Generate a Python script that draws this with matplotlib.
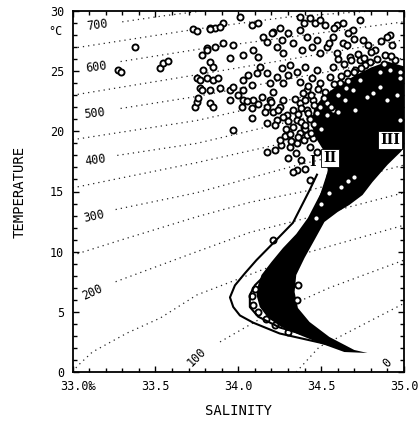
"""T-S diagram: surface temperature vs salinity with thermosteric anomaly isolines."""

import matplotlib

matplotlib.use("Agg")
import matplotlib.pyplot as plt
from matplotlib.ticker import MultipleLocator
from matplotlib.transforms import ScaledTranslation

# thermosteric anomaly isolines (cl/t) as (S, T) vertices
ISO_LEVELS = [700, 650, 600, 550, 500, 450, 400, 350, 300, 250, 200, 150, 100, 50]
ISO_S = {
    700: [33.30, 33.55, 33.78],
    650: [33.0, 33.75, 34.30, 34.80],
    600: [33.29, 33.75, 34.40, 35.0],
    550: [33.0, 33.75, 34.40, 35.0],
    500: [33.29, 33.75, 34.40, 35.0],
    450: [33.0, 33.75, 34.40, 35.0],
    400: [33.27, 33.75, 34.40, 35.0],
    350: [33.0, 33.75, 34.40, 35.0],
    300: [33.26, 33.75, 34.33, 35.0],
    250: [33.0, 33.30, 33.75, 34.07, 34.43, 35.0],
    200: [33.26, 33.75, 34.07, 34.33, 35.0],
    150: [33.0, 33.03, 33.12, 33.33, 33.53, 33.75, 34.41, 35.0],
    100: [33.89, 34.13, 34.55, 35.0],
    50: [34.35, 34.49, 34.60, 35.0],
}
ISO_T = {
    700: [29.1, 29.6, 30.0],
    650: [26.9, 28.5, 29.5, 30.0],
    600: [25.8, 26.8, 28.0, 29.1],
    550: [23.0, 24.7, 26.2, 27.6],
    500: [21.9, 22.9, 24.6, 26.1],
    450: [19.3, 20.9, 22.9, 24.6],
    400: [18.0, 19.0, 21.1, 23.0],
    350: [15.3, 17.4, 19.4, 21.2],
    300: [13.5, 14.9, 17.1, 19.3],
    250: [9.7, 11.0, 12.9, 14.1, 15.1, 17.2],
    200: [7.5, 10.0, 11.6, 12.5, 14.9],
    150: [0.0, 0.5, 1.66, 3.24, 4.49, 6.4, 9.9, 12.2],
    100: [2.5, 4.4, 7.0, 9.3],
    50: [0.0, 2.1, 2.85, 5.7],
}
# isoline labels: text, S, T, rotation
ISO_LABELS = [
    ("700", 33.148, 28.84, 8),
    ("600", 33.142, 25.35, 8),
    ("500", 33.13, 21.53, 6),
    ("400", 33.136, 17.62, 8),
    ("300", 33.13, 12.97, 12),
    ("200", 33.118, 6.65, 25),
    ("100", 33.75, 1.25, 45),
    ("0", 34.897, 0.75, 45),
]

# envelope curves I (outer) and II (inner)
CURVE_I_S = [34.475, 34.43, 34.33, 34.21, 34.11, 34.04, 33.98, 33.95, 33.97, 34.01,
             34.09, 34.25, 34.475, 34.64]
CURVE_I_T = [16.4, 15.1, 12.4, 10.7, 9.3, 8.2, 7.2, 6.2, 5.4, 4.7, 4.1, 3.2, 2.5, 2.0]
CURVE_II_S = [34.54, 34.49, 34.39, 34.28, 34.18, 34.10, 34.07, 34.07, 34.12, 34.25,
              34.45, 34.64]
CURVE_II_T = [16.4, 14.3, 11.6, 9.7, 8.3, 7.2, 6.4, 5.4, 4.6, 3.7, 2.9, 2.1]

# outline of the solid black cloud of overlapping stations
CORE_S = [34.78, 34.70, 34.55, 34.43, 34.36, 34.34, 34.35, 34.40, 34.46, 34.52, 34.60,
          34.67, 34.75, 34.81, 34.90, 34.98, 35.0, 35.0, 34.90, 34.80, 34.70, 34.60,
          34.52, 34.46, 34.44, 34.47, 34.52, 34.54, 34.52, 34.47, 34.42, 34.35, 34.27,
          34.20, 34.14, 34.12, 34.11, 34.13, 34.18, 34.26, 34.37, 34.49, 34.64]
CORE_T = [1.58, 1.83, 2.91, 4.16, 5.32, 6.65, 8.06, 9.48, 10.97, 12.47, 13.30,
          13.88, 14.71, 15.79, 17.21, 18.29, 18.62, 25.4, 25.8, 25.3, 24.6, 23.8,
          23.0, 22.0, 20.6, 19.4, 18.3, 16.79, 15.46, 14.13, 12.80, 11.47, 10.31,
          9.14, 8.06, 7.23, 6.40, 5.40, 4.49, 3.74, 3.08, 2.41, 1.66]

# individual stations (open circles)
STN_S = [
    33.275, 33.29, 33.377, 33.528, 33.546, 33.576, 33.727, 33.751, 33.739, 33.751,
    33.757, 33.751, 33.769, 33.769, 33.787, 33.811, 33.830, 33.781, 33.781,
    34.011, 33.908, 33.860, 33.830, 33.890, 34.083, 34.119, 34.210, 34.252, 34.373,
    34.397, 34.433, 34.463, 34.493, 34.523, 34.596, 34.632, 34.735, 34.915, 34.897,
    33.811, 33.860, 33.908, 33.968, 33.830, 33.848, 33.950, 34.029, 34.089, 34.119,
    34.149, 34.173, 34.204, 34.234, 34.264, 34.270, 34.300, 34.330, 34.373, 34.385,
    34.415, 34.445, 34.475, 34.493, 34.535, 34.572, 34.596, 34.632, 34.692, 34.674,
    34.735, 34.795, 34.855, 34.976, 34.976,
    33.811, 33.848, 33.878, 33.830, 33.890, 33.950, 33.968, 34.029, 34.059, 34.029,
    34.083, 34.113, 34.131, 34.173, 34.192, 34.210, 34.234, 34.264, 34.270, 34.300,
    34.312, 34.354, 34.373, 34.403, 34.415, 34.445, 34.475, 34.493, 34.523, 34.554,
    34.572, 34.614, 34.656, 34.692, 34.735, 34.777, 34.813, 34.855, 34.897, 34.958,
    33.830, 33.848, 34.023, 34.029, 34.089, 34.143, 34.173, 34.192, 34.210, 34.252,
    34.270, 34.294, 34.330, 34.373, 34.415, 34.433, 34.451, 34.475, 34.493, 34.535,
    34.535, 34.572, 34.083, 33.968, 34.173, 34.234, 34.354, 34.397,
    34.373, 34.397, 34.415, 34.451, 34.354, 34.433, 34.173, 34.222, 34.312, 34.354,
    34.330, 34.475, 34.433, 34.210, 34.360, 34.354,
    34.656, 34.753, 34.825, 34.885, 34.946, 34.704, 34.765, 34.915, 34.644, 34.704,
    34.976, 34.958,
    34.08, 34.10, 34.09, 34.12, 34.17, 34.22, 34.30,
    34.55, 34.62, 34.66, 34.70, 34.50, 34.47,
    34.60, 34.64, 34.68, 34.72, 34.76, 34.80, 34.84, 34.88, 34.92, 34.93,
    34.86, 34.78, 34.70, 34.66, 34.58, 34.55, 34.62, 34.66, 34.70, 34.74, 34.58, 34.60,
    34.65, 34.52, 34.56, 34.60, 34.48, 34.44, 34.40, 34.46, 34.42, 34.38, 34.46, 34.50,
    34.44, 34.40, 34.36, 34.33, 34.30, 34.27, 34.24, 34.20, 34.16, 34.12, 34.08, 34.05,
    34.00, 33.95, 34.28, 34.32, 34.26, 34.35, 34.38, 34.40, 34.30,
    34.36, 34.40, 34.43, 34.38, 34.34, 34.31, 34.42, 34.39, 34.29, 34.25, 34.22,
]
STN_T = [
    25.1, 24.9, 27.0, 25.3, 25.7, 25.85, 28.51, 28.35, 22.03, 22.44,
    22.78, 24.44, 23.61, 24.27, 25.1, 26.93, 28.6, 26.35, 23.44,
    29.51, 29.01, 28.60, 28.51, 28.68, 28.84, 29.01, 28.26, 28.60, 29.51,
    29.01, 29.43, 29.01, 29.26, 28.84, 28.84, 29.01, 29.26, 28.01, 27.85,
    26.77, 27.02, 27.35, 27.18, 25.77, 25.35, 26.10, 26.35, 26.77, 26.18,
    27.85, 27.43, 28.18, 27.02, 27.60, 26.52, 28.18, 27.35, 28.43, 26.77,
    27.85, 27.02, 27.60, 26.52, 27.02, 27.85, 26.52, 27.35, 28.43, 26.18,
    25.94, 25.77, 24.94, 24.94, 24.44,
    24.44, 24.27, 24.44, 23.44, 23.61, 23.44, 23.69, 24.27, 24.69, 23.44,
    23.86, 24.85, 25.35, 24.85, 24.02, 23.28, 24.52, 25.27, 24.02, 24.69,
    25.52, 24.94, 24.11, 25.35, 23.44, 24.44, 25.10, 24.02, 23.28, 24.52,
    25.35, 24.02, 24.85, 23.44, 24.27, 22.86, 23.19, 23.69, 22.61, 23.03,
    22.36, 22.03, 22.03, 22.61, 22.61, 22.86, 22.03, 22.61, 21.61, 22.03,
    22.61, 21.36, 21.78, 22.36, 21.78, 21.11, 22.61, 21.53, 22.03, 22.36,
    21.36, 21.78, 21.11, 20.12, 20.70, 20.95, 20.95, 20.37,
    19.87, 19.29, 19.70, 19.45, 19.04, 18.70, 18.29, 18.45, 18.70, 16.79,
    16.63, 18.29, 15.96, 10.97, 7.23, 5.99,
    27.18, 27.60, 26.77, 26.35, 25.94, 25.10, 25.52, 25.10, 22.61, 21.78,
    20.95, 19.6,
    6.3, 6.9, 5.6, 5.0, 4.4, 3.9, 3.3,
    14.9, 15.4, 15.9, 16.2, 14.0, 12.8,
    26.0, 25.6, 25.9, 26.4, 26.1, 26.6, 26.0, 25.6, 26.3, 27.2,
    27.5, 27.2, 27.7, 28.2, 28.6, 27.3, 24.6, 24.2, 24.9, 25.3, 23.9, 23.0,
    23.6, 22.8, 22.0, 21.6, 23.5, 23.0, 22.6, 22.2, 21.5, 20.8, 20.6, 20.2,
    19.9, 20.2, 21.4, 20.4, 20.9, 21.2, 21.8, 22.4, 21.6, 22.3, 21.9, 22.5,
    23.0, 22.6, 19.6, 19.2, 18.9, 18.2, 17.6, 16.9, 17.8,
    19.5, 20.5, 21.0, 21.9, 22.7, 19.8, 23.8, 23.2, 20.2, 19.3, 20.5,
]

# water-type labels: text, S, T, boxed
TYPE_LABELS = [("I", 34.446, 17.46, False), ("II", 34.554, 17.8, True), ("III", 34.915, 19.3, True)]

S_MAJOR = [33.0, 33.5, 34.0, 34.5, 35.0]
S_TICKLABELS = ["33.0‰", "33.5", "34.0", "34.5", "35.0"]
T_MAJOR = [0, 5, 10, 15, 20, 25, 30]

MONO = "DejaVu Sans Mono"

fig = plt.figure(figsize=(4.19, 4.21), dpi=100)
ax = fig.add_axes([72.5 / 419, 1 - 372 / 421, (404 - 72.5) / 419, (372 - 11) / 421])
ax.set_xlim(33.0, 35.0)
ax.set_ylim(0, 30)

for lev in ISO_LEVELS:
    ax.plot(ISO_S[lev], ISO_T[lev], color="0.15", lw=0.9, ls=(0, (1, 3.2)), zorder=1)
for txt, s, t, rot in ISO_LABELS:
    ax.text(s, t, txt, fontsize=8.5, family=MONO, rotation=rot,
            ha="center", va="center", zorder=2)

ax.fill(CORE_S, CORE_T, color="black", lw=0, zorder=3)
ax.plot(STN_S, STN_T, ls="none", marker="o", ms=4.4, mfc="white", mec="black",
        mew=1.35, zorder=4)
ax.plot(CURVE_I_S, CURVE_I_T, color="black", lw=1.5, zorder=5)
ax.plot(CURVE_II_S, CURVE_II_T, color="black", lw=1.5, zorder=5)

for txt, s, t, boxed in TYPE_LABELS:
    kw = {}
    if boxed:
        kw["bbox"] = dict(boxstyle="square,pad=0.15", fc="white", ec="black", lw=0.6)
    ax.text(s, t, txt, fontsize=10, family="DejaVu Serif", weight="bold",
            ha="center", va="center", zorder=6, **kw)

ax.set_xticks(S_MAJOR)
ax.set_xticklabels(S_TICKLABELS, family=MONO, fontsize=8.5)
ax.set_yticks(T_MAJOR)
ax.set_yticklabels([str(t) for t in T_MAJOR], family=MONO, fontsize=8.5)
ax.xaxis.set_minor_locator(MultipleLocator(0.1))
ax.yaxis.set_minor_locator(MultipleLocator(1))
ax.tick_params(which="both", direction="in", top=True, right=True, width=1.0)
ax.tick_params(which="major", length=4, pad=6)
ax.tick_params(which="minor", length=3)
for sp in ax.spines.values():
    sp.set_linewidth(1.3)

# the per-mille sign hangs to the right of the first tick value
first = ax.get_xticklabels()[0]
first.set_transform(first.get_transform() + ScaledTranslation(5 / 100, 0, fig.dpi_scale_trans))

ax.text(-0.03, 28.3, "°C", transform=ax.get_yaxis_transform(), family=MONO,
        fontsize=8.5, ha="right", va="center")
ax.set_xlabel("SALINITY", family=MONO, fontsize=10, labelpad=8)
ax.set_ylabel("TEMPERATURE", family=MONO, fontsize=10, labelpad=17)

fig.savefig("out.png", dpi=100)
